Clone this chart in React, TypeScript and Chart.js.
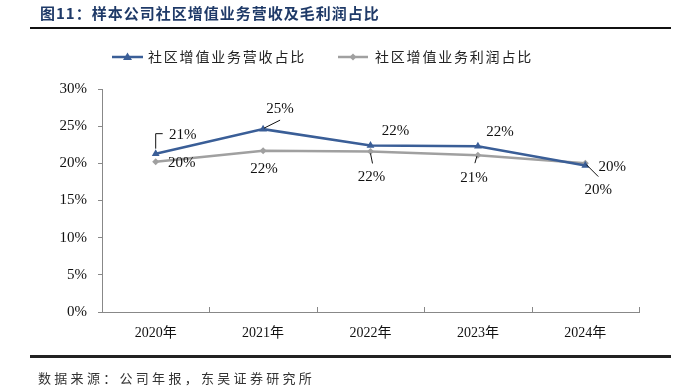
import React, { useEffect, useRef } from "react";
import { Chart, registerables } from "chart.js";
Chart.register(...registerables);

const categories = ["2020年", "2021年", "2022年", "2023年", "2024年"];
const revenueShare = [21.3, 24.6, 22.4, 22.3, 19.7];
const profitShare = [20.2, 21.7, 21.6, 21.1, 20.0];
const seriesNames = ["社区增值业务营收占比", "社区增值业务利润占比"];
const yTicks = [0, 5, 10, 15, 20, 25, 30];
const titleText = "图11：样本公司社区增值业务营收及毛利润占比";
const sourceText = "数据来源：公司年报，东吴证券研究所";

const BLUE = "#3A5E97";
const GRAY = "#A0A0A0";
const SERIF = '"Liberation Serif", "Times New Roman", "Noto Sans CJK SC", serif';
const CJK = '"Noto Sans CJK SC", sans-serif';

// label placement (pixel offsets relative to the point) and leader lines
const labelLayout: Record<string, { dx: number; dy: number; leader?: number[][] }> = {
  "0-0": { dx: 27, dy: -19, leader: [[0, -5], [0, -20], [7, -20]] },
  "0-1": { dx: 17, dy: -20, leader: [[1, -1], [17, -9]] },
  "0-2": { dx: 25, dy: -14 },
  "0-3": { dx: 22, dy: -14 },
  "0-4": { dx: 13, dy: 24, leader: [[1, -1], [13, 11]] },
  "1-0": { dx: 26, dy: 1 },
  "1-1": { dx: 1, dy: 18 },
  "1-2": { dx: 1, dy: 26, leader: [[0, 2], [2, 12]] },
  "1-3": { dx: -4, dy: 23, leader: [[-1, 1], [-3, 8]] },
  "1-4": { dx: 27, dy: 4 },
};

const decorPlugin = {
  id: "decor",
  afterDraw(chart: any) {
    const ctx = chart.ctx;
    const area = chart.chartArea;
    ctx.save();
    // title
    ctx.fillStyle = "#1F3A68";
    ctx.font = `bold 15px ${CJK}`;
    ctx.textBaseline = "middle";
    ctx.textAlign = "left";
    (ctx as any).letterSpacing = "1px";
    ctx.fillText(titleText, 40, 13);
    // top rule
    ctx.fillStyle = "#111";
    ctx.fillRect(30, 27, 641, 2);
    // bottom rule
    ctx.fillStyle = "#222";
    ctx.fillRect(30, 355, 641, 3);
    // source
    ctx.fillStyle = "#333";
    ctx.font = `13px ${CJK}`;
    (ctx as any).letterSpacing = "3.3px";
    ctx.fillText(sourceText, 38, 378);

    // legend
    const legendItems = [
      { x0: 112, x1: 143, tx: 148, color: BLUE, marker: "tri" },
      { x0: 338, x1: 368, tx: 375, color: GRAY, marker: "dia" },
    ];
    legendItems.forEach((it, i) => {
      const y = 57;
      ctx.strokeStyle = it.color;
      ctx.lineWidth = 2.5;
      ctx.beginPath();
      ctx.moveTo(it.x0, y);
      ctx.lineTo(it.x1, y);
      ctx.stroke();
      const cx = (it.x0 + it.x1) / 2;
      ctx.fillStyle = it.color;
      ctx.beginPath();
      if (it.marker === "tri") {
        ctx.moveTo(cx, y - 4.5);
        ctx.lineTo(cx + 4.5, y + 3);
        ctx.lineTo(cx - 4.5, y + 3);
      } else {
        ctx.moveTo(cx, y - 3.5);
        ctx.lineTo(cx + 3.5, y);
        ctx.lineTo(cx, y + 3.5);
        ctx.lineTo(cx - 3.5, y);
      }
      ctx.closePath();
      ctx.fill();
      ctx.fillStyle = "#222";
      ctx.font = `14px ${CJK}`;
      (ctx as any).letterSpacing = "1.8px";
      ctx.fillText(seriesNames[i], it.tx, y);
    });
    (ctx as any).letterSpacing = "0px";

    // x-axis category boundary ticks (pointing up)
    ctx.strokeStyle = "#888";
    ctx.lineWidth = 1;
    const n = categories.length;
    for (let i = 1; i <= n; i++) {
      const x = Math.round(area.left + (i * (area.right - area.left)) / n) + 0.5;
      ctx.beginPath();
      ctx.moveTo(x, area.bottom);
      ctx.lineTo(x, area.bottom - 5);
      ctx.stroke();
    }

    // data labels
    ctx.font = `15px ${SERIF}`;
    ctx.textAlign = "center";
    ctx.textBaseline = "middle";
    chart.data.datasets.forEach((ds: any, di: number) => {
      const meta = chart.getDatasetMeta(di);
      meta.data.forEach((pt: any, pi: number) => {
        const lay = labelLayout[`${di}-${pi}`];
        if (!lay) return;
        if (lay.leader) {
          ctx.strokeStyle = "#111";
          ctx.lineWidth = 1;
          ctx.beginPath();
          lay.leader.forEach((p, k) => {
            const px = pt.x + p[0];
            const py = pt.y + p[1];
            if (k === 0) ctx.moveTo(px, py);
            else ctx.lineTo(px, py);
          });
          ctx.stroke();
        }
        ctx.fillStyle = "#111";
        ctx.fillText(`${Math.round(ds.data[pi])}%`, pt.x + lay.dx, pt.y + lay.dy);
      });
    });
    ctx.restore();
  },
};

export default function App() {
  const ref = useRef<HTMLCanvasElement | null>(null);
  useEffect(() => {
    if (!ref.current) return;
    const chart = new Chart(ref.current, {
      type: "line",
      data: {
        labels: categories,
        datasets: [
          {
            label: seriesNames[0],
            data: revenueShare,
            borderColor: BLUE,
            backgroundColor: BLUE,
            borderWidth: 2.5,
            pointStyle: "triangle",
            pointRadius: 4.5,
            pointBorderWidth: 0,
            tension: 0,
          },
          {
            label: seriesNames[1],
            data: profitShare,
            borderColor: GRAY,
            backgroundColor: GRAY,
            borderWidth: 2.5,
            pointStyle: "rectRot",
            pointRadius: 3.5,
            pointBorderWidth: 0,
            tension: 0,
          },
        ],
      },
      options: {
        responsive: false,
        animation: false,
        layout: { padding: { top: 89, left: 0, right: 53, bottom: 0 } },
        plugins: {
          legend: { display: false },
          title: { display: false },
          tooltip: { enabled: false },
        },
        scales: {
          x: {
            offset: true,
            grid: { display: false, drawTicks: false },
            border: { display: true, color: "#888", width: 1 },
            ticks: {
              color: "#111",
              padding: 13,
              maxRotation: 0,
              font: { family: SERIF, size: 14 },
            },
            afterFit: (s: any) => {
              s.height = 77;
            },
          },
          y: {
            min: 0,
            max: 30,
            afterBuildTicks: (s: any) => {
              s.ticks = yTicks.map((v) => ({ value: v }));
            },
            grid: { drawOnChartArea: false, drawTicks: true, tickLength: 4, color: "#888" },
            border: { display: true, color: "#888", width: 1 },
            ticks: {
              color: "#111",
              padding: 11,
              font: { family: SERIF, size: 15 },
              callback: (v: any) => `${v}%`,
            },
            afterFit: (s: any) => {
              s.width = 102;
            },
          },
        },
      },
      plugins: [decorPlugin],
    });
    return () => chart.destroy();
  }, []);
  return (
    <div style={{ position: "absolute", left: 0, top: 0, width: 692, height: 389, background: "#fff" }}>
      <canvas ref={ref} width={692} height={389} style={{ display: "block" }} />
    </div>
  );
}
